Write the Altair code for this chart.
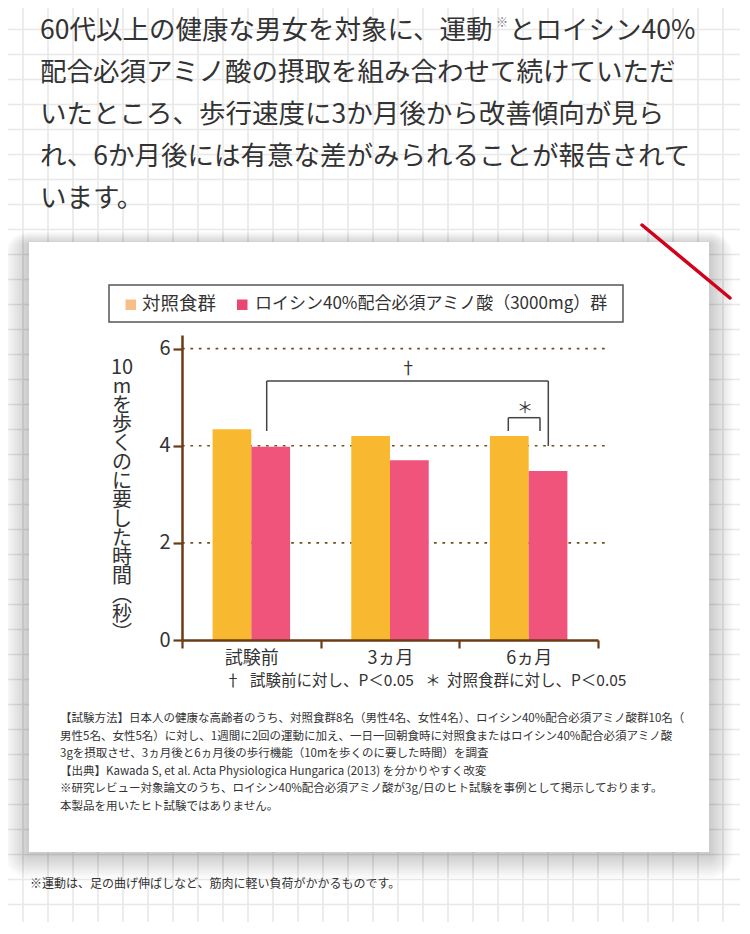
import altair as alt
import pandas as pd

# ---------------- data ----------------
categories = ["試験前", "3ヵ月", "6ヵ月"]
groups = ["対照食群", "ロイシン40%配合必須アミノ酸（3000mg）群"]
control_values = [4.34, 4.20, 4.20]
leucine_values = [3.98, 3.70, 3.48]
y_ticks = [0, 2, 4, 6]
y_grid = [2, 4, 6]
bar_colors = ["#F8B930", "#F0547B"]
legend_colors = ["#F8BE88", "#E9476F"]

headline_first = ["60代以上の健康な男女を対象に、運動", "※", "とロイシン40%"]
headline_rest = [
    "配合必須アミノ酸の摂取を組み合わせて続けていただ",
    "いたところ、歩行速度に3か月後から改善傾向が見ら",
    "れ、6か月後には有意な差がみられることが報告されて",
    "います。",
]
y_title = ["10", "m", "を", "歩", "く", "の", "に", "要", "し", "た", "時", "間", "︵", "秒", "︶"]
sig_notes = ["†", "試験前に対し、P＜0.05", "＊", "対照食群に対し、P＜0.05"]
method_lines = [
    "【試験方法】日本人の健康な高齢者のうち、対照食群8名（男性4名、女性4名）、ロイシン40%配合必須アミノ酸群10名（",
    "男性5名、女性5名）に対し、1週間に2回の運動に加え、一日一回朝食時に対照食またはロイシン40%配合必須アミノ酸",
    "3gを摂取させ、3ヵ月後と6ヵ月後の歩行機能（10mを歩くのに要した時間）を調査",
    "【出典】Kawada S, et al. Acta Physiologica Hungarica (2013) を分かりやすく改変",
    "※研究レビュー対象論文のうち、ロイシン40%配合必須アミノ酸が3g/日のヒト試験を事例として掲示しております。",
    "本製品を用いたヒト試験ではありません。",
]
bottom_note = "※運動は、足の曲げ伸ばしなど、筋肉に軽い負荷がかかるものです。"

# ---------------- layout helpers ----------------
FONT = "Noto Sans CJK JP"
TXT = "#333333"
BROWN = "#6B3C14"
OX, OY = 182, 335          # page position of the plot origin
W, H = 416, 305


def px(x):
    return x - OX


def py(y):
    return y - OY


one = pd.DataFrame({"k": [0]})
layers = []

# background squared paper
vx = pd.DataFrame({"gx": [px(23 + 25 * i) for i in range(29)]})
hy = pd.DataFrame({"gy": [py(4.5 + 25 * i) for i in range(1, 37)]})
layers.append(alt.Chart(vx).mark_rule(color="#e8e8e8", strokeWidth=1.6).encode(
    x=alt.X("gx:Q", scale=None), y=alt.value(py(8)), y2=alt.value(py(922))))
layers.append(alt.Chart(hy).mark_rule(color="#e8e8e8", strokeWidth=1.6).encode(
    y=alt.Y("gy:Q", scale=None), x=alt.value(px(8)), x2=alt.value(px(742))))

# card shadow + card
for i in range(1, 11):
    e = i * 2.4
    layers.append(alt.Chart(one).mark_rect(color="black", opacity=0.018, cornerRadius=e).encode(
        x=alt.value(px(29 - e)), x2=alt.value(px(709 + e)),
        y=alt.value(py(244 - e * 0.5)), y2=alt.value(py(854 + e))))
layers.append(alt.Chart(one).mark_rect(color="white").encode(
    x=alt.value(px(29)), x2=alt.value(px(709)), y=alt.value(py(242)), y2=alt.value(py(852))))

# red diagonal stroke
layers.append(alt.Chart(one).mark_rule(color="#D0021B", strokeWidth=3.5, strokeCap="round").encode(
    x=alt.value(px(642)), y=alt.value(py(225)), x2=alt.value(px(730)), y2=alt.value(py(298))))

# headline
layers.append(alt.Chart(one).mark_text(font=FONT, fontSize=26.5, color=TXT, align="left", baseline="middle").encode(
    x=alt.value(px(40)), y=alt.value(py(31)), text=alt.value(headline_first[0])))
layers.append(alt.Chart(one).mark_text(font=FONT, fontSize=12, color="#777", align="left", baseline="middle").encode(
    x=alt.value(px(496)), y=alt.value(py(23)), text=alt.value(headline_first[1])))
layers.append(alt.Chart(one).mark_text(font=FONT, fontSize=26.5, color=TXT, align="left", baseline="middle").encode(
    x=alt.value(px(509)), y=alt.value(py(31)), text=alt.value(headline_first[2])))
for i, line in enumerate(headline_rest):
    layers.append(alt.Chart(one).mark_text(font=FONT, fontSize=26.5, color=TXT, align="left", baseline="middle").encode(
        x=alt.value(px(40)), y=alt.value(py(73 + 42 * i)), text=alt.value(line)))

# legend
layers.append(alt.Chart(one).mark_rect(fill="white", stroke="#555555", strokeWidth=1.5).encode(
    x=alt.value(px(109)), x2=alt.value(px(623)), y=alt.value(py(285)), y2=alt.value(py(322))))
for sx, tx, fs, name, col in zip([125.5, 237], [142, 255], [18.5, 17], groups, legend_colors):
    layers.append(alt.Chart(one).mark_rect(color=col).encode(
        x=alt.value(px(sx)), x2=alt.value(px(sx + 10.5)), y=alt.value(py(299.5)), y2=alt.value(py(310))))
    layers.append(alt.Chart(one).mark_text(font=FONT, fontSize=fs, color=TXT, align="left", baseline="middle").encode(
        x=alt.value(px(tx)), y=alt.value(py(304)), text=alt.value(name)))

# shared y scale / axis
yscale = alt.Scale(domain=[0, 6.28], nice=False, zero=True)
yaxis = alt.Axis(title=None, values=y_ticks, domainColor=BROWN, domainWidth=2.5, tickColor=BROWN,
                 tickWidth=2.2, tickSize=9, labelFont=FONT, labelFontSize=20, labelColor=TXT,
                 labelPadding=3, grid=False, zindex=1)

# dotted gridlines
layers.append(alt.Chart(pd.DataFrame({"v": y_grid})).mark_rule(
    color="#7A4A1E", strokeDash=[2.7, 5.7], strokeWidth=1.6).encode(
    y=alt.Y("v:Q", scale=yscale, axis=yaxis), x=alt.value(0), x2=alt.value(px(606))))

# bars
df = pd.DataFrame({
    "cat": categories * 2,
    "grp": [groups[0]] * 3 + [groups[1]] * 3,
    "val": control_values + leucine_values,
})
bars = alt.Chart(df).mark_bar().encode(
    x=alt.X("cat:N", sort=categories, scale=alt.Scale(paddingInner=0, paddingOuter=0),
            axis=alt.Axis(title=None, domainColor=BROWN, domainWidth=2.5, tickColor=BROWN, tickWidth=2.2,
                          tickSize=8, tickBand="extent", labelFont=FONT, labelFontSize=18, labelColor=TXT,
                          labelPadding=1, labelAngle=0, grid=False, zindex=1)),
    xOffset=alt.XOffset("grp:N", sort=groups, scale=alt.Scale(paddingInner=0, paddingOuter=0.79)),
    y=alt.Y("val:Q", scale=yscale, axis=yaxis),
    color=alt.Color("grp:N", sort=groups, scale=alt.Scale(domain=groups, range=bar_colors), legend=None),
)
layers.append(bars)

# significance brackets
segs = [
    (266.7, 431, 266.7, 381), (266.7, 381, 548.3, 381), (548.3, 381, 548.3, 446),
    (508.3, 431, 508.3, 417.7), (508.3, 417.7, 540, 417.7), (540, 417.7, 540, 431),
]
for x1, y1, x2, y2 in segs:
    layers.append(alt.Chart(one).mark_rule(color="#444444", strokeWidth=1.5).encode(
        x=alt.value(px(x1)), y=alt.value(py(y1)), x2=alt.value(px(x2)), y2=alt.value(py(y2))))
layers.append(alt.Chart(one).mark_text(font=FONT, fontSize=17, color=TXT, align="center", baseline="middle").encode(
    x=alt.value(px(408.3)), y=alt.value(py(369)), text=alt.value(sig_notes[0])))
layers.append(alt.Chart(one).mark_text(font=FONT, fontSize=16, color=TXT, align="center", baseline="middle").encode(
    x=alt.value(px(525)), y=alt.value(py(408)), text=alt.value(sig_notes[2])))

# y axis title (vertical, one glyph per row)
layers.append(alt.Chart(one).mark_text(font=FONT, fontSize=20, color=TXT, align="center", baseline="middle",
                                       lineBreak="\n", lineHeight=19).encode(
    x=alt.value(px(122)), y=alt.value(py(368)), text=alt.value("\n".join(y_title))))

# significance notes
for xx, txt, al in zip([233, 250, 433, 447], sig_notes, ["center", "left", "center", "left"]):
    layers.append(alt.Chart(one).mark_text(font=FONT, fontSize=15.5, color=TXT, align=al, baseline="middle").encode(
        x=alt.value(px(xx)), y=alt.value(py(681)), text=alt.value(txt)))

# method text
for i, line in enumerate(method_lines):
    layers.append(alt.Chart(one).mark_text(font=FONT, fontSize=11.5, color=TXT, align="left", baseline="middle").encode(
        x=alt.value(px(60)), y=alt.value(py(719 + 17.6 * i)), text=alt.value(line)))

# bottom note
layers.append(alt.Chart(one).mark_text(font=FONT, fontSize=12, color=TXT, align="left", baseline="middle").encode(
    x=alt.value(px(30)), y=alt.value(py(884)), text=alt.value(bottom_note)))

chart = alt.layer(*layers).properties(
    width=W, height=H,
    autosize=alt.AutoSizeParams(type="none"),
    padding={"left": 174, "top": 327, "right": 142, "bottom": 282},
    background="white",
).configure_view(stroke=None)

chart.save("out.html", embed_options={"renderer": "svg", "actions": False})
